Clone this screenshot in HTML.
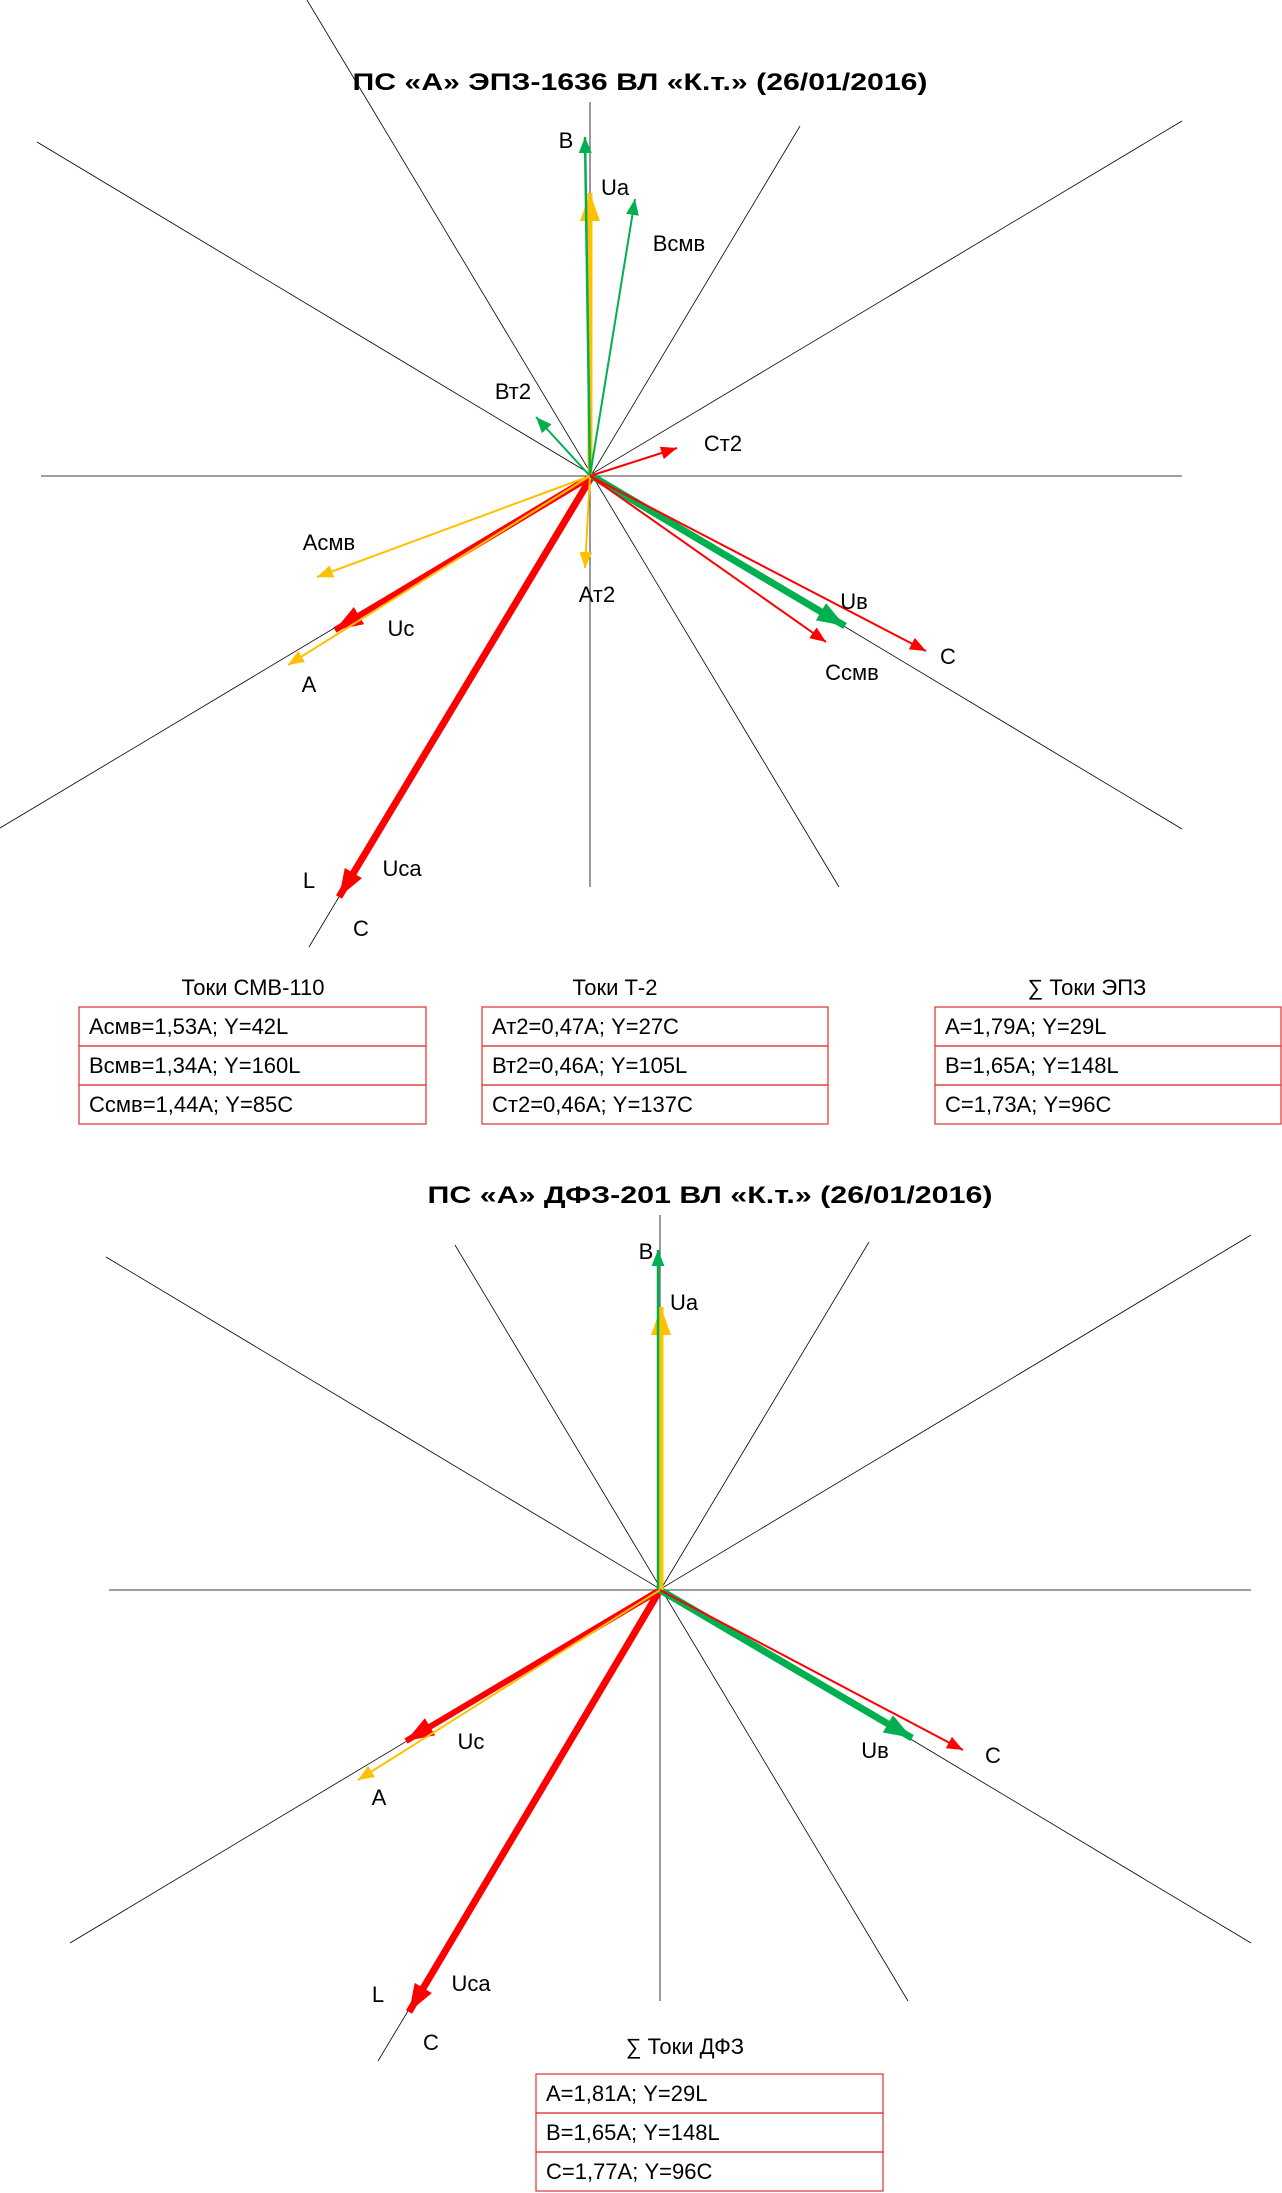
<!DOCTYPE html>
<html><head><meta charset="utf-8"><style>
html,body{margin:0;padding:0;background:#fff}
svg{display:block}
text{font-family:"Liberation Sans",sans-serif;fill:#000}
</style></head><body>
<svg width="1282" height="2193" viewBox="0 0 1282 2193" xmlns="http://www.w3.org/2000/svg">
<defs>
<marker id="rs" markerUnits="userSpaceOnUse" markerWidth="18" markerHeight="14" refX="16" refY="6.5" orient="auto"><path d="M0,0 L16,6.5 L0,13 z" fill="#FF0000"/></marker>
<marker id="gs" markerUnits="userSpaceOnUse" markerWidth="18" markerHeight="14" refX="16" refY="6.5" orient="auto"><path d="M0,0 L16,6.5 L0,13 z" fill="#00B050"/></marker>
<marker id="ys" markerUnits="userSpaceOnUse" markerWidth="18" markerHeight="14" refX="16" refY="6.5" orient="auto"><path d="M0,0 L16,6.5 L0,13 z" fill="#FFC000"/></marker>
<marker id="rb" markerUnits="userSpaceOnUse" markerWidth="30" markerHeight="22" refX="28" refY="10" orient="auto"><path d="M0,0 L28,10 L0,20 z" fill="#FF0000"/></marker>
<marker id="gb" markerUnits="userSpaceOnUse" markerWidth="30" markerHeight="22" refX="28" refY="10" orient="auto"><path d="M0,0 L28,10 L0,20 z" fill="#00B050"/></marker>
<marker id="yb" markerUnits="userSpaceOnUse" markerWidth="30" markerHeight="22" refX="28" refY="10" orient="auto"><path d="M0,0 L28,10 L0,20 z" fill="#FFC000"/></marker>
</defs>

<!-- Diagram 1 -->
<g stroke="#000" stroke-width="0.8">
<line x1="41" y1="476" x2="1182" y2="476"/>
<line x1="590" y1="102" x2="590" y2="887"/>
<line x1="1182" y1="121" x2="0" y2="828"/>
<line x1="37" y1="142" x2="1182" y2="829"/>
<line x1="800" y1="126" x2="309" y2="947"/>
<line x1="307" y1="0" x2="839" y2="887"/>
</g>
<text x="640" y="90" font-size="24" font-weight="bold" text-anchor="middle" textLength="575" lengthAdjust="spacingAndGlyphs">ПС «А» ЭПЗ-1636 ВЛ «К.т.» (26/01/2016)</text>
<g fill="none">
<line x1="592" y1="476" x2="339" y2="897" stroke="#FF0000" stroke-width="7" marker-end="url(#rb)"/>
<line x1="592" y1="476" x2="335" y2="630" stroke="#FF0000" stroke-width="6" marker-end="url(#rb)"/>
<line x1="592" y1="476" x2="845" y2="626" stroke="#00B050" stroke-width="7" marker-end="url(#gb)"/>
<line x1="590" y1="476" x2="590" y2="193" stroke="#FFC000" stroke-width="5" marker-end="url(#yb)"/>
<line x1="590" y1="476" x2="585" y2="137" stroke="#00B050" stroke-width="2.5" marker-end="url(#gs)"/>
<line x1="590" y1="476" x2="635" y2="199" stroke="#00B050" stroke-width="2" marker-end="url(#gs)"/>
<line x1="590" y1="476" x2="536" y2="417" stroke="#00B050" stroke-width="2" marker-end="url(#gs)"/>
<line x1="590" y1="476" x2="677" y2="448" stroke="#FF0000" stroke-width="2" marker-end="url(#rs)"/>
<line x1="590" y1="476" x2="317" y2="577" stroke="#FFC000" stroke-width="2" marker-end="url(#ys)"/>
<line x1="590" y1="476" x2="288" y2="665" stroke="#FFC000" stroke-width="2" marker-end="url(#ys)"/>
<line x1="590" y1="476" x2="585" y2="568" stroke="#FFC000" stroke-width="2" marker-end="url(#ys)"/>
<line x1="590" y1="476" x2="826" y2="642" stroke="#FF0000" stroke-width="2" marker-end="url(#rs)"/>
<line x1="590" y1="476" x2="926" y2="651" stroke="#FF0000" stroke-width="2" marker-end="url(#rs)"/>
</g>
<g font-size="22" text-anchor="middle">
<text x="566" y="148">В</text>
<text x="615" y="195">Ua</text>
<text x="679" y="251">Всмв</text>
<text x="513" y="399">Вт2</text>
<text x="723" y="451">Ст2</text>
<text x="329" y="550">Асмв</text>
<text x="597" y="602">Ат2</text>
<text x="401" y="636">Uc</text>
<text x="309" y="692">A</text>
<text x="854" y="609">Uв</text>
<text x="948" y="664">C</text>
<text x="852" y="680">Ссмв</text>
<text x="309" y="888">L</text>
<text x="402" y="876">Uca</text>
<text x="361" y="936">C</text>
</g>

<!-- Tables 1 -->
<g font-size="22" text-anchor="middle">
<text x="253" y="995">Токи СМВ-110</text>
<text x="615" y="995">Токи Т-2</text>
<text x="1087" y="995">∑ Токи ЭПЗ</text>
</g>
<g fill="none" stroke="#E03030" stroke-width="1.2">
<rect x="79" y="1007" width="347" height="39"/><rect x="79" y="1046" width="347" height="39"/><rect x="79" y="1085" width="347" height="39"/>
<rect x="482" y="1007" width="346" height="39"/><rect x="482" y="1046" width="346" height="39"/><rect x="482" y="1085" width="346" height="39"/>
<rect x="935" y="1007" width="346" height="39"/><rect x="935" y="1046" width="346" height="39"/><rect x="935" y="1085" width="346" height="39"/>
</g>
<g font-size="22">
<text x="89" y="1034">Асмв=1,53А; Y=42L</text>
<text x="89" y="1073">Всмв=1,34А; Y=160L</text>
<text x="89" y="1112">Ссмв=1,44А; Y=85С</text>
<text x="492" y="1034">Ат2=0,47А; Y=27С</text>
<text x="492" y="1073">Вт2=0,46А; Y=105L</text>
<text x="492" y="1112">Ст2=0,46А; Y=137С</text>
<text x="945" y="1034">А=1,79А; Y=29L</text>
<text x="945" y="1073">В=1,65А; Y=148L</text>
<text x="945" y="1112">С=1,73А; Y=96С</text>
</g>

<!-- Diagram 2 -->
<text x="710" y="1203" font-size="24" font-weight="bold" text-anchor="middle" textLength="565" lengthAdjust="spacingAndGlyphs">ПС «А» ДФЗ-201 ВЛ «К.т.» (26/01/2016)</text>
<g stroke="#000" stroke-width="0.8">
<line x1="109" y1="1590" x2="1251" y2="1590"/>
<line x1="660" y1="1215" x2="660" y2="2001"/>
<line x1="1251" y1="1235" x2="70" y2="1943"/>
<line x1="106" y1="1257" x2="1251" y2="1943"/>
<line x1="869" y1="1242" x2="378" y2="2061"/>
<line x1="455" y1="1245" x2="908" y2="2001"/>
</g>
<g fill="none">
<line x1="660" y1="1590" x2="409" y2="2012" stroke="#FF0000" stroke-width="7" marker-end="url(#rb)"/>
<line x1="660" y1="1590" x2="406" y2="1741" stroke="#FF0000" stroke-width="6" marker-end="url(#rb)"/>
<line x1="660" y1="1590" x2="912" y2="1738" stroke="#00B050" stroke-width="7" marker-end="url(#gb)"/>
<line x1="661" y1="1590" x2="661" y2="1307" stroke="#FFC000" stroke-width="5" marker-end="url(#yb)"/>
<line x1="658" y1="1590" x2="658" y2="1250" stroke="#00B050" stroke-width="2.5" marker-end="url(#gs)"/>
<line x1="660" y1="1590" x2="358" y2="1780" stroke="#FFC000" stroke-width="2" marker-end="url(#ys)"/>
<line x1="660" y1="1590" x2="963" y2="1750" stroke="#FF0000" stroke-width="2" marker-end="url(#rs)"/>
</g>
<g font-size="22" text-anchor="middle">
<text x="646" y="1259">В</text>
<text x="684" y="1310">Ua</text>
<text x="471" y="1749">Uc</text>
<text x="379" y="1805">A</text>
<text x="875" y="1758">Uв</text>
<text x="993" y="1763">C</text>
<text x="378" y="2002">L</text>
<text x="471" y="1991">Uca</text>
<text x="431" y="2050">C</text>
<text x="685" y="2054">∑ Токи ДФЗ</text>
</g>
<g fill="none" stroke="#E03030" stroke-width="1.2">
<rect x="536" y="2074" width="347" height="39"/><rect x="536" y="2113" width="347" height="39"/><rect x="536" y="2152" width="347" height="39"/>
</g>
<g font-size="22">
<text x="546" y="2101">А=1,81А; Y=29L</text>
<text x="546" y="2140">В=1,65А; Y=148L</text>
<text x="546" y="2179">С=1,77А; Y=96С</text>
</g>
</svg>
</body></html>
